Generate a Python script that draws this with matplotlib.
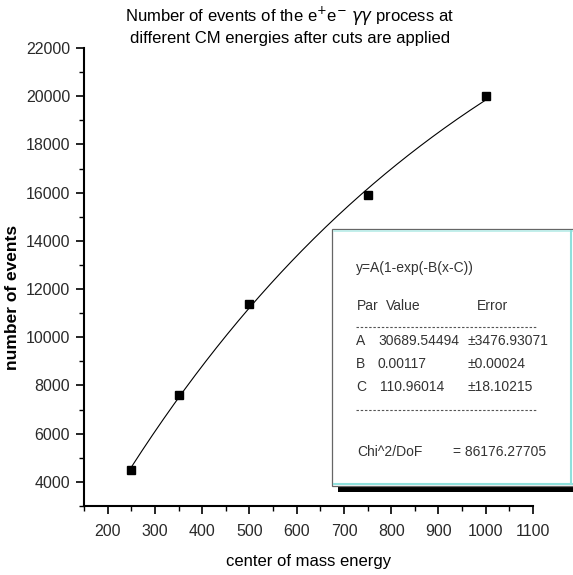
import numpy as np
import matplotlib.pyplot as plt
from matplotlib.patches import Rectangle
from matplotlib.ticker import MultipleLocator

plt.rcParams['font.family'] = ['Liberation Sans', 'DejaVu Sans']

# measured event counts
energy = [250, 350, 500, 750, 1000]
events = [4500, 7600, 11400, 15900, 20000]

# fit y = A(1-exp(-B(x-C)))
A, B, C = 30689.54494, 0.00117, 110.96014
A_err, B_err, C_err = 3476.93071, 0.00024, 18.10215
chi2_dof = 86176.27705

fig = plt.figure(figsize=(5.73, 5.75), dpi=100)
ax = fig.add_axes([0.1466, 0.12, 0.7836, 0.7965])

xf = np.linspace(energy[0], energy[-1], 300)
ax.plot(xf, A * (1 - np.exp(-B * (xf - C))), color='black', lw=0.8)
ax.plot(energy, events, 's', color='black', ms=6)

ax.set_xlim(150, 1100)
ax.set_ylim(3000, 22000)
ax.xaxis.set_minor_locator(MultipleLocator(50))
ax.yaxis.set_minor_locator(MultipleLocator(1000))
ax.set_xticks(range(200, 1101, 100))
ax.set_yticks(range(4000, 22001, 2000))

for s in ['top', 'right']:
    ax.spines[s].set_visible(False)
for s in ['left', 'bottom']:
    ax.spines[s].set_linewidth(1.5)
ax.tick_params(which='major', length=6, width=1.2, labelsize=11.5, colors='black', labelcolor='#2a2a2a')
ax.tick_params(which='minor', length=3.5, width=1.0)
ax.tick_params(axis='x', pad=7)
ax.tick_params(axis='y', pad=4)

ax.set_xlabel('center of mass energy', fontsize=12)
ax.xaxis.set_label_coords(0.5, -0.105)
ax.set_ylabel('number of events', fontsize=12.5, fontweight='semibold')
ax.yaxis.set_label_coords(-0.142, 0.456)

fig.text(0.506, 0.972,
         'Number of events of the e$^{+}$e$^{-}$ $\\gamma\\gamma$ process at',
         ha='center', va='center', fontsize=12)
fig.text(0.506, 0.933, 'different CM energies after cuts are applied',
         ha='center', va='center', fontsize=12)

# fit results box
W, H = 573.0, 575.0
def fx(px): return px / W
def fy(py): return 1 - py / H

fig.patches.append(Rectangle((fx(338), fy(492)), fx(573) - fx(338), fy(486) - fy(492),
                             transform=fig.transFigure, facecolor='black', edgecolor='none'))
fig.patches.append(Rectangle((fx(332), fy(486)), fx(575) - fx(332), fy(229) - fy(486),
                             transform=fig.transFigure, facecolor='white',
                             edgecolor='#666666', lw=0.9))
fig.lines.append(plt.Line2D([fx(334), fx(573)], [fy(484), fy(484)],
                            transform=fig.transFigure, color='#8fe0dc', lw=1.5))
fig.lines.append(plt.Line2D([fx(334), fx(573)], [fy(231), fy(231)],
                            transform=fig.transFigure, color='#b8ece8', lw=1.2))
fig.lines.append(plt.Line2D([fx(571), fx(571)], [fy(231), fy(484)],
                            transform=fig.transFigure, color='#8fe0dc', lw=1.5))

tc = '#333333'
fs = 10
def put(px, py, s):
    fig.text(fx(px), fy(py), s, ha='left', va='center', fontsize=fs, color=tc)

put(356, 268, 'y=A(1-exp(-B(x-C))')
put(357, 306, 'Par')
put(386, 306, 'Value')
put(477, 306, 'Error')
# separator rules made of short dashes
for yy in (327, 410):
    fig.lines.append(plt.Line2D([fx(356), fx(536)], [fy(yy), fy(yy)],
                                transform=fig.transFigure, color='#555555',
                                lw=0.8, dashes=(2.2, 1.6)))
put(356, 341, 'A')
put(378, 341, f'{A:.5f}')
put(467, 341, f'\u00b1{A_err:.5f}')
put(356, 364, 'B')
put(378, 364, f'{B:.5f}')
put(467, 364, f'\u00b1{B_err:.5f}')
put(356, 387, 'C')
put(380, 387, f'{C:.5f}')
put(467, 387, f'\u00b1{C_err:.5f}')
put(357, 452, 'Chi^2/DoF')
put(453, 452, f'= {chi2_dof:.5f}')

fig.savefig('out.png', dpi=100)
